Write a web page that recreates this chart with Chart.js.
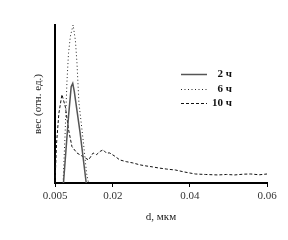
<!DOCTYPE html>
<html lang="ru">
<head>
  <meta charset="UTF-8" />
  <title>Распределение по размерам</title>
  <script src="https://cdn.jsdelivr.net/npm/chart.js"></script>
  <style>
    html, body { margin: 0; padding: 0; background: #fff; }
    .grafico { width: 288px; height: 240px; }
  </style>
</head>
<body>
  <div class="grafico">
    <canvas id="grafico"></canvas>
  </div>

  <script>
    // d, мкм / вес (отн. ед.)
    const seriesNames = ['2 ч', '6 ч', '10 ч'];
    const xTicks = [0.005, 0.02, 0.04, 0.06];

    const d2h = [0.0072, 0.0085, 0.0092, 0.0096, 0.0100, 0.0115, 0.0131];
    const w2h = [0, 42, 61, 63, 58, 32, 0];

    const d6h = [0.0071, 0.0076, 0.0081, 0.0085, 0.0090, 0.0097, 0.0103, 0.0107, 0.0112, 0.0124, 0.0132, 0.0137];
    const w6h = [0, 30, 64, 82, 93, 100, 90, 76, 51, 25, 6, 0];

    const d10h = [0.0050, 0.0054, 0.0060, 0.0068, 0.0077, 0.0085, 0.0094, 0.0107, 0.0124, 0.0137,
                  0.0149, 0.0158, 0.0167, 0.0175, 0.0183, 0.0192, 0.0205, 0.0218, 0.0235, 0.0252,
                  0.0270, 0.0286, 0.0303, 0.0319, 0.0340, 0.0363, 0.0385, 0.0414, 0.0440, 0.0472,
                  0.0495, 0.0516, 0.0540, 0.0558, 0.0580, 0.0600];
    const w10h = [0, 25, 44, 56, 48, 34, 23, 19, 16.5, 14.6,
                  19, 18, 20, 21, 19, 19, 17, 14.6, 13.5, 12.7,
                  11.5, 10.8, 10.2, 9.5, 8.8, 8.2, 7, 5.7, 5.4, 5.1,
                  5.4, 5.1, 5.6, 5.7, 5.2, 5.7];

    const pares = (xs, ys) => xs.map((x, i) => ({ x: x, y: ys[i] }));

    // legenda desenhada no canto superior direito
    const legendaPlugin = {
      id: 'legenda',
      afterDraw(chart) {
        const ctx = chart.ctx;
        const ys = [74, 89, 103];
        ctx.save();
        chart.data.datasets.forEach((ds, i) => {
          ctx.beginPath();
          ctx.strokeStyle = ds.borderColor;
          ctx.lineWidth = ds.borderWidth;
          ctx.setLineDash(ds.borderDash || []);
          ctx.moveTo(181, ys[i] + 0.5);
          ctx.lineTo(207, ys[i] + 0.5);
          ctx.stroke();
          ctx.setLineDash([]);
          ctx.fillStyle = '#111';
          ctx.font = 'bold 11px "Liberation Serif", serif';
          ctx.textAlign = 'right';
          ctx.textBaseline = 'middle';
          ctx.fillText(ds.label, 232, ys[i]);
        });
        ctx.restore();
      }
    };

    const ctx = document.getElementById('grafico');
    new Chart(ctx, {
      type: 'line',
      data: {
        datasets: [
          {
            label: seriesNames[0],
            data: pares(d2h, w2h),
            borderColor: '#555',
            borderWidth: 1.5,
            pointRadius: 0,
            tension: 0
          },
          {
            label: seriesNames[1],
            data: pares(d6h, w6h),
            borderColor: '#222',
            borderWidth: 1,
            borderDash: [1, 2.5],
            pointRadius: 0,
            tension: 0
          },
          {
            label: seriesNames[2],
            data: pares(d10h, w10h),
            borderColor: '#111',
            borderWidth: 1,
            borderDash: [3, 2],
            pointRadius: 0,
            tension: 0
          }
        ]
      },
      options: {
        responsive: true,
        maintainAspectRatio: false,
        animation: false,
        clip: false,
        layout: { padding: { top: 25, right: 21, left: 0, bottom: 0 } },
        plugins: {
          legend: { display: false },
          tooltip: { enabled: false }
        },
        scales: {
          x: {
            type: 'linear',
            min: 0.005,
            max: 0.06,
            afterBuildTicks: (scale) => { scale.ticks = xTicks.map(v => ({ value: v })); },
            afterFit: (scale) => { scale.height = 57; },
            ticks: {
              color: '#333',
              padding: 3,
              maxRotation: 0,
              font: { family: '"Liberation Serif", serif', size: 11 },
              callback: (v) => String(v)
            },
            grid: { display: true, drawOnChartArea: false, drawTicks: true, tickLength: 4, color: '#000', lineWidth: 1 },
            border: { display: true, color: '#000', width: 2 },
            title: {
              display: true,
              text: 'd, мкм',
              color: '#222',
              font: { family: '"Liberation Serif", serif', size: 11 },
              padding: { top: 4, bottom: 16 }
            }
          },
          y: {
            min: 0,
            max: 100,
            afterFit: (scale) => { scale.width = 55; },
            ticks: { display: false },
            grid: { display: false },
            border: { display: true, color: '#000', width: 2 },
            title: {
              display: true,
              text: 'вес (отн. ед.)',
              color: '#222',
              font: { family: '"Liberation Serif", serif', size: 11 },
              padding: { top: 32, bottom: 0 }
            }
          }
        }
      },
      plugins: [legendaPlugin]
    });
  </script>
</body>
</html>
